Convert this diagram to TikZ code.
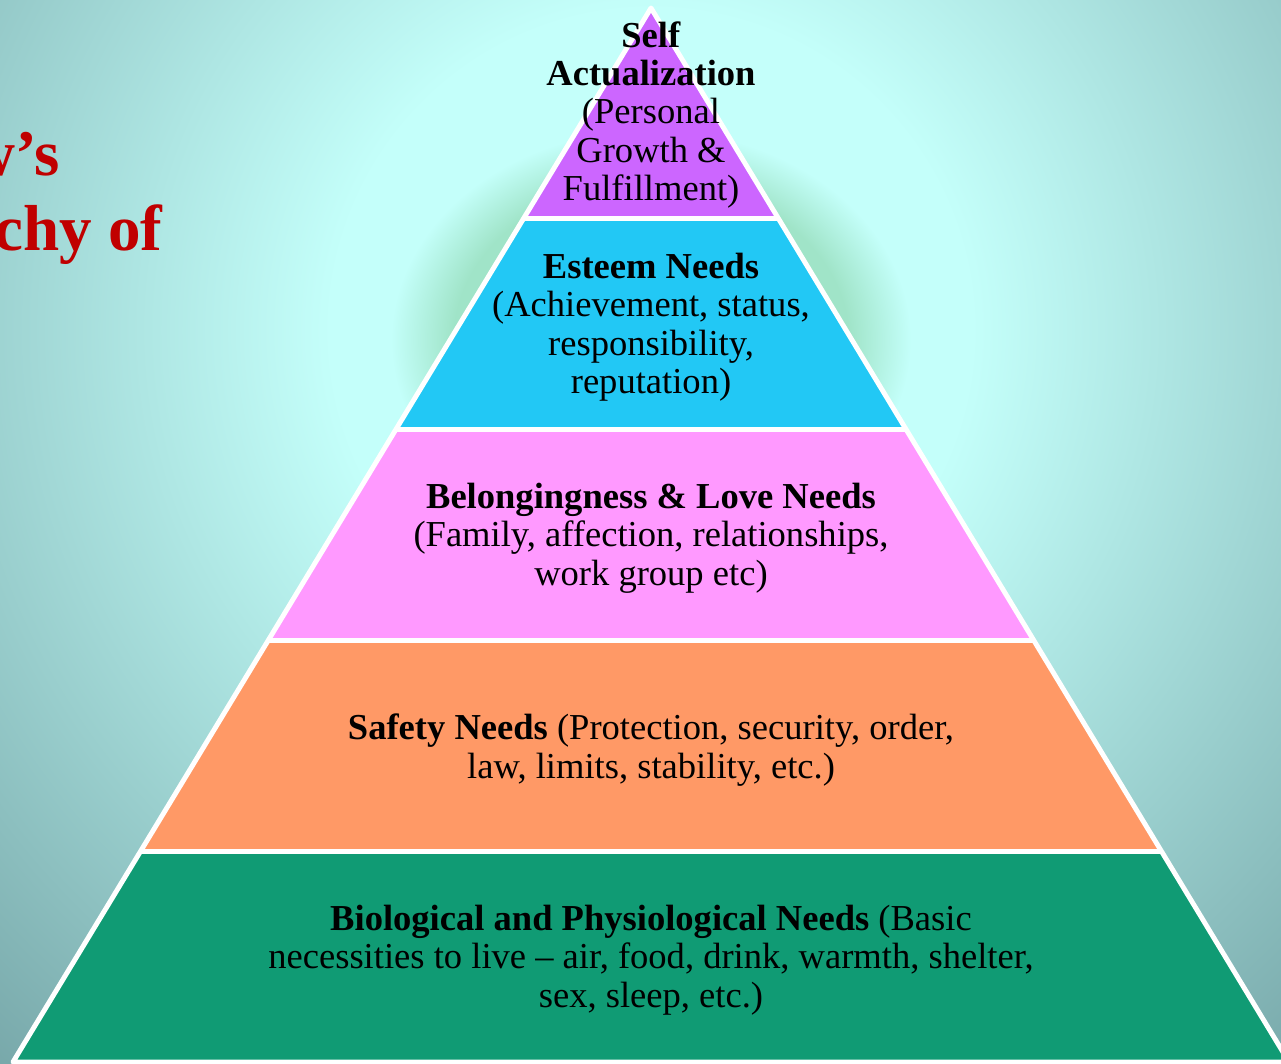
\documentclass[tikz,border=0pt]{standalone}
\usepackage{fontspec}
\setmainfont{Liberation Serif}
\usetikzlibrary{calc}
\definecolor{bglight}{RGB}{196,255,250}
\definecolor{bgdark}{RGB}{118,166,168}
\definecolor{halogreen}{RGB}{160,228,200}
\definecolor{selfpurple}{RGB}{204,102,255}
\definecolor{esteemcyan}{RGB}{34,200,245}
\definecolor{lovepink}{RGB}{255,153,255}
\definecolor{safeorange}{RGB}{255,153,102}
\definecolor{biogreen}{RGB}{16,155,116}
\definecolor{titlered}{RGB}{192,0,0}
% radial shadings: 25bp is the edge of the shaded path
\pgfdeclareradialshading{bgglow}{\pgfpointorigin}{color(0bp)=(bglight); color(8bp)=(bglight); color(25bp)=(bgdark); color(50bp)=(bgdark)}
\pgfdeclareradialshading{greenhalo}{\pgfpointorigin}{color(0bp)=(halogreen); color(19bp)=(halogreen); color(25bp)=(bglight); color(50bp)=(bglight)}

\begin{document}
\begin{tikzpicture}[
			x=0.02cm, y=-0.02cm,
			bandtext/.style={align=center, inner sep=0pt, text=black, font=\fontsize{20.8}{21.9}\selectfont},
			titletext/.style={inner sep=0pt, text=titlered, font=\fontsize{37}{42}\selectfont\bfseries},
			gapline/.style={draw=white, line width=3pt},
			outline/.style={draw=white, line width=2.8pt, line join=round}
			]
			\useasboundingbox (0,0) rectangle (1281,1063);
			\clip (0,0) rectangle (1281,1063);
			% background
			\shade[shading=bgglow] (651,330) circle (1000);
			\shade[shading=greenhalo] (651,340) ellipse (260 and 210);
			% title (runs off the left edge)
			\node[titletext, anchor=base east] (titleA) at (60,175) {Maslow’s};
			\node[titletext, anchor=base east] (titleB) at (163,250) {Hierarchy of};
			% pyramid
			\coordinate (apex) at (651,8);
			\coordinate (baseL) at (13,1062);
			\coordinate (baseR) at (1289,1062);
			\begin{scope}
				\clip (apex) -- (baseL) -- (baseR) -- cycle;
				\fill[selfpurple] (0,0) rectangle (1300,218.8);
				\fill[esteemcyan] (0,218.8) rectangle (1300,429.6);
				\fill[lovepink] (0,429.6) rectangle (1300,640.4);
				\fill[safeorange] (0,640.4) rectangle (1300,851.2);
				\fill[biogreen] (0,851.2) rectangle (1300,1070);
			\end{scope}
			\foreach \t in {0.2,0.4,0.6,0.8}
				\draw[gapline] ($(apex)!\t!(baseL)$) -- ($(apex)!\t!(baseR)$);
			\draw[outline] (apex) -- (baseL) -- (baseR) -- cycle;
			% level labels
			\node[bandtext] (selfact) at (651,115) {\textbf{Self}\\\textbf{Actualization}\\(Personal\\Growth \&\\Fulfillment)};
			\node[bandtext] (esteem) at (651,327) {\textbf{Esteem Needs}\\(Achievement, status,\\responsibility,\\reputation)};
			\node[bandtext] (belong) at (651,538) {\textbf{Belongingness \& Love Needs}\\(Family, affection, relationships,\\work group etc)};
			\node[bandtext] (safety) at (651,750) {\textbf{Safety Needs} (Protection, security, order,\\law, limits, stability, etc.)};
			\node[bandtext] (bio) at (651,960) {\textbf{Biological and Physiological Needs} (Basic\\necessities to live -- air, food, drink, warmth, shelter,\\sex, sleep, etc.)};
		\end{tikzpicture}
\end{document}
